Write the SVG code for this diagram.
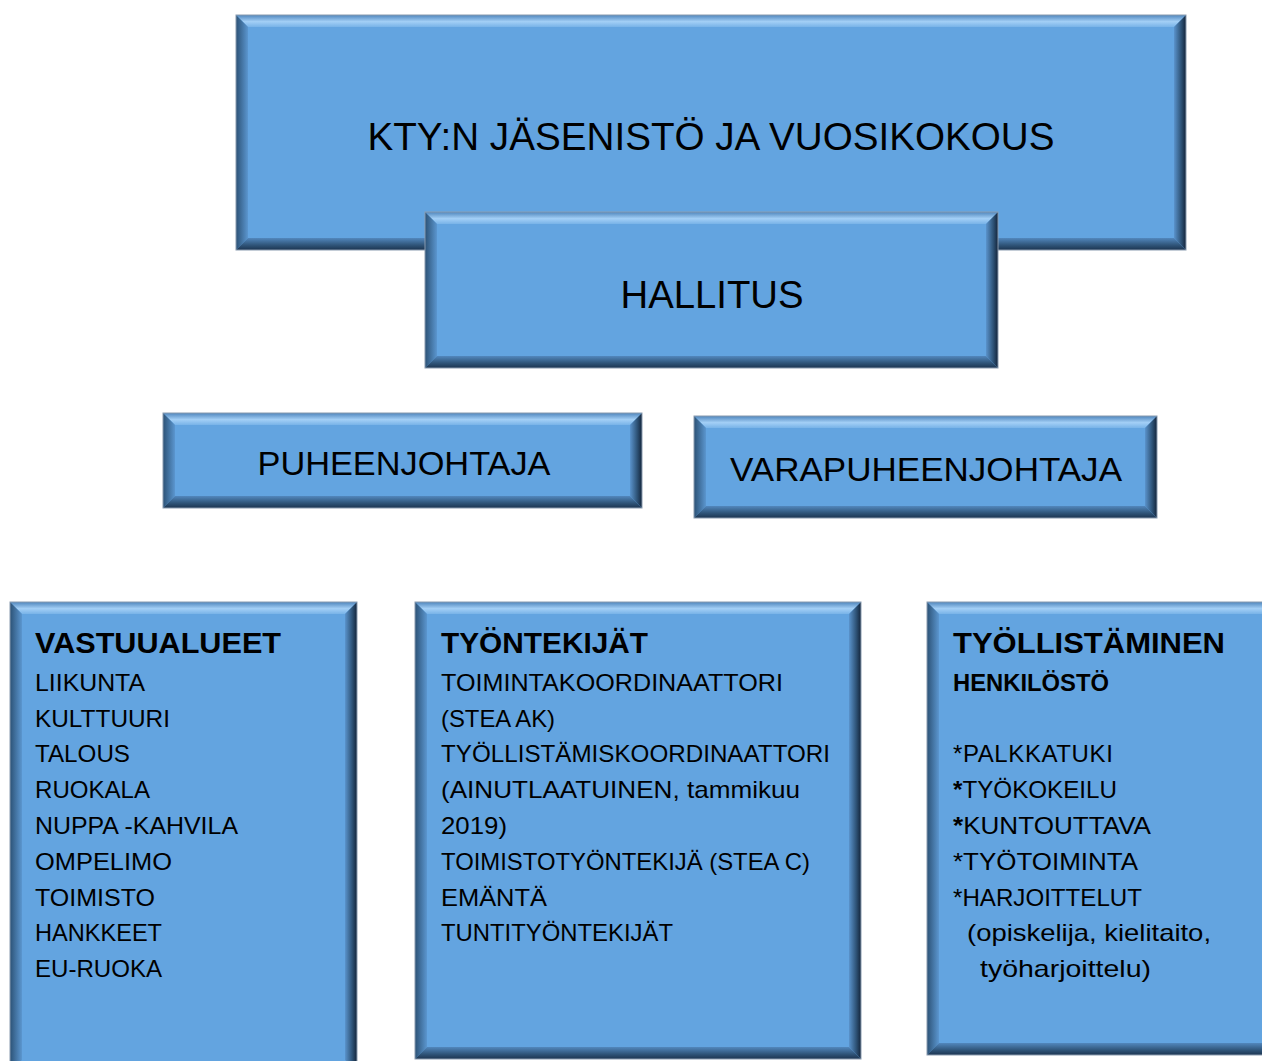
<svg xmlns="http://www.w3.org/2000/svg" width="1262" height="1061" viewBox="0 0 1262 1061">
<defs>
<linearGradient id="gTop" x1="0" y1="0" x2="0" y2="1"><stop offset="0" stop-color="#4f86bd"/><stop offset="0.55" stop-color="#a3cff6"/><stop offset="1" stop-color="#78b3e8"/></linearGradient>
<linearGradient id="gLeft" x1="0" y1="0" x2="1" y2="0"><stop offset="0" stop-color="#2c5276"/><stop offset="1" stop-color="#5b96cf"/></linearGradient>
<linearGradient id="gRight" x1="0" y1="0" x2="1" y2="0"><stop offset="0" stop-color="#5a93cc"/><stop offset="0.6" stop-color="#2e5377"/><stop offset="1" stop-color="#13243a"/></linearGradient>
<linearGradient id="gBot" x1="0" y1="0" x2="0" y2="1"><stop offset="0" stop-color="#5287bd"/><stop offset="0.6" stop-color="#2f5478"/><stop offset="1" stop-color="#1c3450"/></linearGradient>
</defs>
<style>
.face{fill:#63a4e0}
.bt{fill:url(#gTop)}
.bl{fill:url(#gLeft)}
.br{fill:url(#gRight)}
.bb{fill:url(#gBot)}
.edge{fill:none;stroke:#8a9cb0;stroke-width:1}
text{font-family:"Liberation Sans",Arial,sans-serif;fill:#000}
.big{font-size:38px}
.mid{font-size:34px}
.hd{font-size:30px;font-weight:bold}
.sub{font-size:24px;font-weight:bold}
.ln{font-size:24px}
</style>
<g id="connectors"></g>
<g id="node-kty">
<rect class="face" x="236" y="15" width="950" height="235"/>
<polygon class="bt" points="236,15 1186,15 1174,27 248,27"/>
<polygon class="bl" points="236,15 248,27 248,238 236,250"/>
<polygon class="br" points="1186,15 1186,250 1174,238 1174,27"/>
<polygon class="bb" points="236,250 1186,250 1174,238 248,238"/>
<rect class="edge" x="236" y="15" width="950" height="235"/>
<text class="big" x="711" y="150" text-anchor="middle" textLength="687" lengthAdjust="spacingAndGlyphs">KTY:N JÄSENISTÖ JA VUOSIKOKOUS</text>
</g>
<g id="node-hallitus">
<rect class="face" x="425" y="212" width="573" height="156"/>
<polygon class="bt" points="425,212 998,212 986,224 437,224"/>
<polygon class="bl" points="425,212 437,224 437,356 425,368"/>
<polygon class="br" points="998,212 998,368 986,356 986,224"/>
<polygon class="bb" points="425,368 998,368 986,356 437,356"/>
<rect class="edge" x="425" y="212" width="573" height="156"/>
<text class="big" x="712" y="308" text-anchor="middle" textLength="183" lengthAdjust="spacingAndGlyphs">HALLITUS</text>
</g>
<g id="node-puheenjohtaja">
<rect class="face" x="163" y="413" width="479" height="95"/>
<polygon class="bt" points="163,413 642,413 630,425 175,425"/>
<polygon class="bl" points="163,413 175,425 175,496 163,508"/>
<polygon class="br" points="642,413 642,508 630,496 630,425"/>
<polygon class="bb" points="163,508 642,508 630,496 175,496"/>
<rect class="edge" x="163" y="413" width="479" height="95"/>
<text class="mid" x="404" y="475" text-anchor="middle" textLength="293" lengthAdjust="spacingAndGlyphs">PUHEENJOHTAJA</text>
</g>
<g id="node-varapuheenjohtaja">
<rect class="face" x="694" y="416" width="463" height="102"/>
<polygon class="bt" points="694,416 1157,416 1145,428 706,428"/>
<polygon class="bl" points="694,416 706,428 706,506 694,518"/>
<polygon class="br" points="1157,416 1157,518 1145,506 1145,428"/>
<polygon class="bb" points="694,518 1157,518 1145,506 706,506"/>
<rect class="edge" x="694" y="416" width="463" height="102"/>
<text class="mid" x="926" y="481" text-anchor="middle" textLength="392" lengthAdjust="spacingAndGlyphs">VARAPUHEENJOHTAJA</text>
</g>
<g id="node-vastuualueet">
<rect class="face" x="10" y="602" width="347" height="470"/>
<polygon class="bt" points="10,602 357,602 345,614 22,614"/>
<polygon class="bl" points="10,602 22,614 22,1060 10,1072"/>
<polygon class="br" points="357,602 357,1072 345,1060 345,614"/>
<rect class="edge" x="10" y="602" width="347" height="470"/>
<text class="hd" x="35" y="653" textLength="246" lengthAdjust="spacingAndGlyphs">VASTUUALUEET</text>
<text class="ln" x="35" y="691" textLength="110" lengthAdjust="spacingAndGlyphs">LIIKUNTA</text>
<text class="ln" x="35" y="727" textLength="135" lengthAdjust="spacingAndGlyphs">KULTTUURI</text>
<text class="ln" x="35" y="762" textLength="95" lengthAdjust="spacingAndGlyphs">TALOUS</text>
<text class="ln" x="35" y="798" textLength="115" lengthAdjust="spacingAndGlyphs">RUOKALA</text>
<text class="ln" x="35" y="834" textLength="203" lengthAdjust="spacingAndGlyphs">NUPPA -KAHVILA</text>
<text class="ln" x="35" y="870" textLength="137" lengthAdjust="spacingAndGlyphs">OMPELIMO</text>
<text class="ln" x="35" y="906" textLength="120" lengthAdjust="spacingAndGlyphs">TOIMISTO</text>
<text class="ln" x="35" y="941" textLength="127" lengthAdjust="spacingAndGlyphs">HANKKEET</text>
<text class="ln" x="35" y="977" textLength="127" lengthAdjust="spacingAndGlyphs">EU-RUOKA</text>
</g>
<g id="node-tyontekijat">
<rect class="face" x="415" y="602" width="446" height="457"/>
<polygon class="bt" points="415,602 861,602 849,614 427,614"/>
<polygon class="bl" points="415,602 427,614 427,1047 415,1059"/>
<polygon class="br" points="861,602 861,1059 849,1047 849,614"/>
<polygon class="bb" points="415,1059 861,1059 849,1047 427,1047"/>
<rect class="edge" x="415" y="602" width="446" height="457"/>
<text class="hd" x="441" y="653" textLength="207" lengthAdjust="spacingAndGlyphs">TYÖNTEKIJÄT</text>
<text class="ln" x="441" y="691" textLength="342" lengthAdjust="spacingAndGlyphs">TOIMINTAKOORDINAATTORI</text>
<text class="ln" x="441" y="727" textLength="114" lengthAdjust="spacingAndGlyphs">(STEA AK)</text>
<text class="ln" x="441" y="762" textLength="389" lengthAdjust="spacingAndGlyphs">TYÖLLISTÄMISKOORDINAATTORI</text>
<text class="ln" x="441" y="798" textLength="359" lengthAdjust="spacingAndGlyphs">(AINUTLAATUINEN, tammikuu</text>
<text class="ln" x="441" y="834" textLength="66" lengthAdjust="spacingAndGlyphs">2019)</text>
<text class="ln" x="441" y="870" textLength="369" lengthAdjust="spacingAndGlyphs">TOIMISTOTYÖNTEKIJÄ (STEA C)</text>
<text class="ln" x="441" y="906" textLength="106" lengthAdjust="spacingAndGlyphs">EMÄNTÄ</text>
<text class="ln" x="441" y="941" textLength="232" lengthAdjust="spacingAndGlyphs">TUNTITYÖNTEKIJÄT</text>
</g>
<g id="node-tyollistaminen">
<rect class="face" x="927" y="602" width="348" height="453"/>
<polygon class="bt" points="927,602 1275,602 1263,614 939,614"/>
<polygon class="bl" points="927,602 939,614 939,1043 927,1055"/>
<polygon class="bb" points="927,1055 1275,1055 1263,1043 939,1043"/>
<rect class="edge" x="927" y="602" width="348" height="453"/>
<text class="hd" x="953" y="653" textLength="272" lengthAdjust="spacingAndGlyphs">TYÖLLISTÄMINEN</text>
<text class="sub" x="953" y="691" textLength="156" lengthAdjust="spacingAndGlyphs">HENKILÖSTÖ</text>
<text class="ln" x="953" y="762" letter-spacing="0.6">*PALKKATUKI</text>
<text class="ln" x="953" y="798" textLength="164" lengthAdjust="spacingAndGlyphs"><tspan font-weight="bold">*</tspan>TYÖKOKEILU</text>
<text class="ln" x="953" y="834" textLength="198" lengthAdjust="spacingAndGlyphs"><tspan font-weight="bold">*</tspan>KUNTOUTTAVA</text>
<text class="ln" x="953" y="870" textLength="185" lengthAdjust="spacingAndGlyphs">*TYÖTOIMINTA</text>
<text class="ln" x="953" y="906" textLength="189" lengthAdjust="spacingAndGlyphs">*HARJOITTELUT</text>
<text class="ln" x="967" y="941" textLength="244" lengthAdjust="spacingAndGlyphs">(opiskelija, kielitaito,</text>
<text class="ln" x="980" y="977" textLength="171" lengthAdjust="spacingAndGlyphs">työharjoittelu)</text>
</g>
</svg>
